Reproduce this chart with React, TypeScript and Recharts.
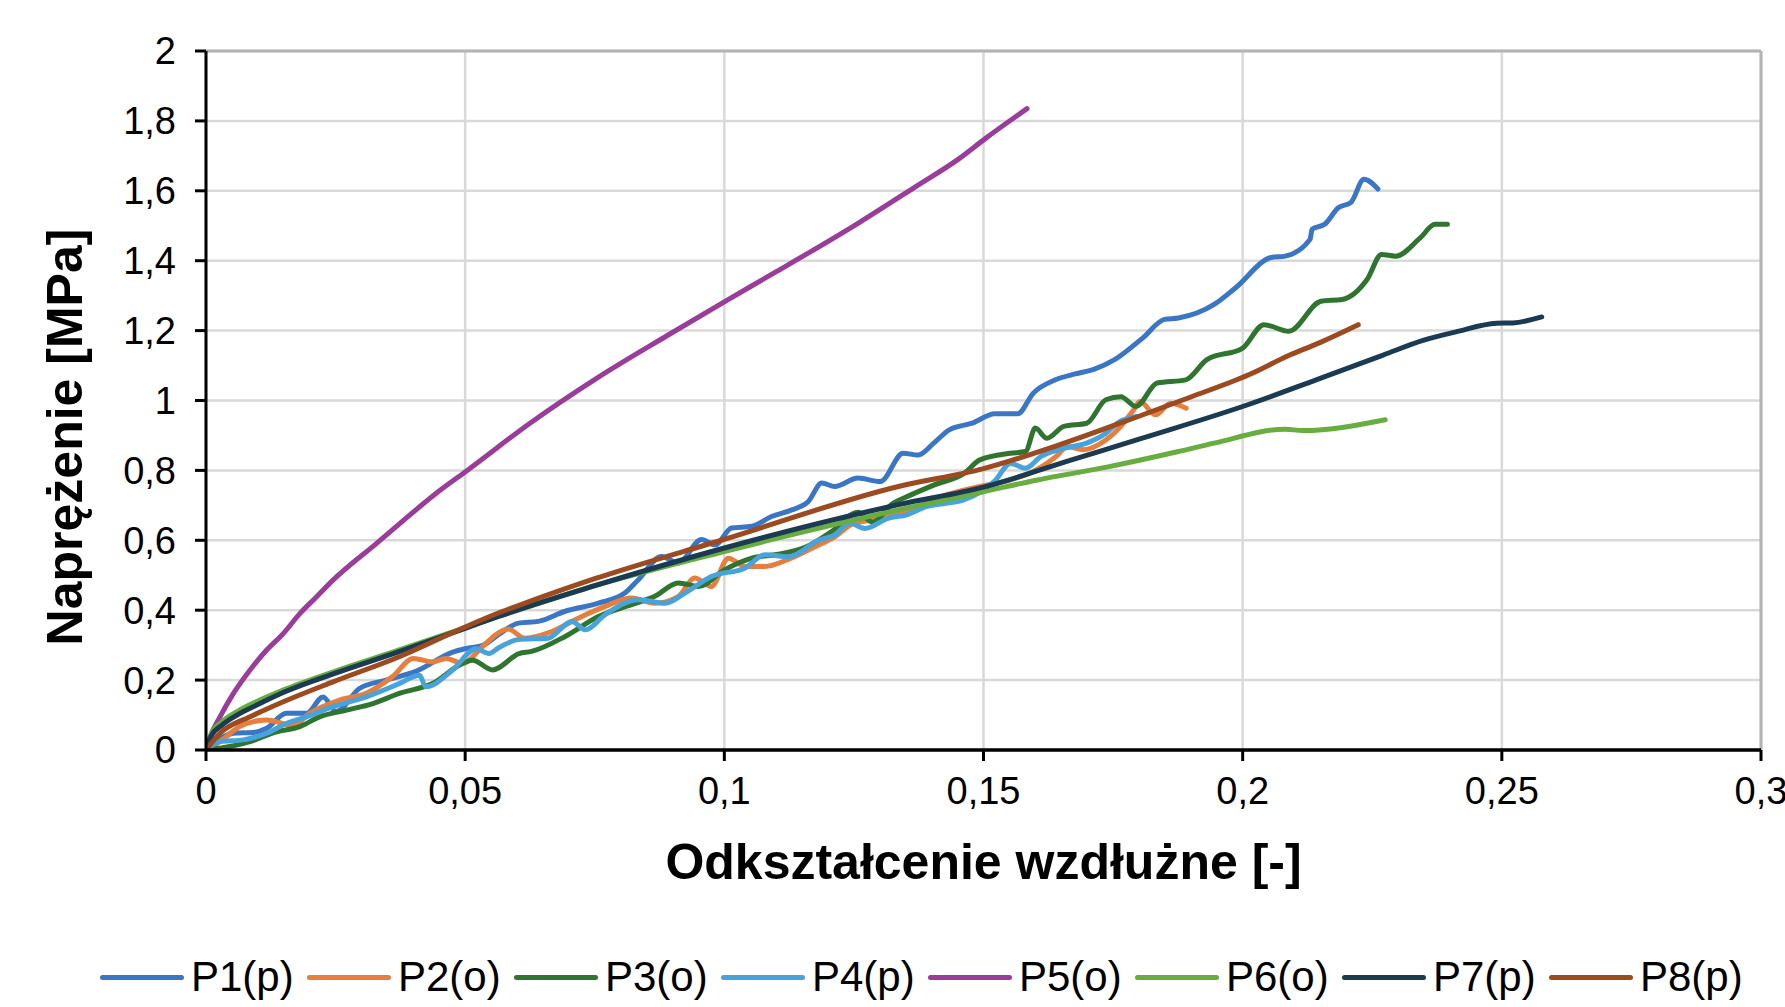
import React from "react";
import {
  LineChart,
  Line,
  XAxis,
  YAxis,
  CartesianGrid,
  ReferenceLine,
} from "recharts";

// Strain [-] / stress [MPa] pairs.
const P1: [number, number][] = [
  [0, 0], [0.0008, 0.01], [0.0053, 0.048], [0.0091, 0.05], [0.0117, 0.062],
  [0.0155, 0.105], [0.0194, 0.105], [0.0226, 0.152], [0.0251, 0.11], [0.0296, 0.176],
  [0.0347, 0.2], [0.0405, 0.225], [0.0476, 0.28], [0.0501, 0.29], [0.0535, 0.3],
  [0.0564, 0.33], [0.0603, 0.363], [0.0641, 0.368], [0.0693, 0.397], [0.0757, 0.42],
  [0.0808, 0.449], [0.0834, 0.487], [0.0879, 0.554], [0.0911, 0.535], [0.0956, 0.602],
  [0.0982, 0.587], [0.1014, 0.635], [0.1053, 0.64], [0.1091, 0.668], [0.113, 0.687],
  [0.1162, 0.711], [0.1188, 0.764], [0.1213, 0.754], [0.1258, 0.778], [0.1301, 0.768],
  [0.1345, 0.849], [0.1374, 0.844], [0.1404, 0.878], [0.1434, 0.916], [0.1478, 0.935],
  [0.1522, 0.962], [0.1566, 0.962], [0.1596, 1.021], [0.164, 1.06], [0.1677, 1.076],
  [0.1714, 1.09], [0.1753, 1.117], [0.1808, 1.18], [0.1849, 1.232], [0.1876, 1.236],
  [0.1945, 1.275], [0.1986, 1.322], [0.2055, 1.409], [0.2082, 1.413], [0.213, 1.461],
  [0.2134, 1.49], [0.2158, 1.504], [0.2185, 1.552], [0.2209, 1.567], [0.2234, 1.633],
  [0.2261, 1.605],
];

const P2: [number, number][] = [
  [0, 0], [0.0027, 0.024], [0.0065, 0.067], [0.0117, 0.086], [0.0168, 0.07],
  [0.02, 0.105], [0.0258, 0.143], [0.0309, 0.162], [0.036, 0.21], [0.04, 0.262],
  [0.0437, 0.252], [0.0463, 0.262], [0.0495, 0.248], [0.0533, 0.295], [0.0564, 0.335],
  [0.0583, 0.346], [0.0615, 0.32], [0.0667, 0.339], [0.0718, 0.377], [0.077, 0.411],
  [0.0821, 0.435], [0.0866, 0.42], [0.0911, 0.439], [0.0943, 0.492], [0.0975, 0.468],
  [0.1008, 0.549], [0.104, 0.525], [0.1078, 0.525], [0.1123, 0.545], [0.1176, 0.582],
  [0.1213, 0.61], [0.125, 0.649], [0.1286, 0.658], [0.136, 0.687], [0.1419, 0.725],
  [0.1493, 0.754], [0.1552, 0.773], [0.1596, 0.797], [0.164, 0.84], [0.1662, 0.868],
  [0.1692, 0.859], [0.1736, 0.887], [0.1765, 0.926], [0.1788, 0.97], [0.1802, 0.997],
  [0.1832, 0.959], [0.1861, 0.992], [0.1891, 0.978],
];

const P3: [number, number][] = [
  [0, 0], [0.0027, 0.005], [0.0085, 0.024], [0.0136, 0.052], [0.0181, 0.067],
  [0.0219, 0.095], [0.0271, 0.114], [0.0322, 0.133], [0.0373, 0.162], [0.0437, 0.19],
  [0.0495, 0.248], [0.0514, 0.257], [0.0553, 0.229], [0.0604, 0.276], [0.0628, 0.282],
  [0.0693, 0.325], [0.0757, 0.382], [0.0821, 0.416], [0.0866, 0.44], [0.0911, 0.478],
  [0.095, 0.468], [0.1001, 0.516], [0.1053, 0.549], [0.1104, 0.56], [0.1156, 0.58],
  [0.1207, 0.625], [0.1258, 0.68], [0.1286, 0.652], [0.1323, 0.703], [0.136, 0.73],
  [0.1404, 0.758], [0.1463, 0.792], [0.1493, 0.83], [0.1552, 0.849], [0.1581, 0.854],
  [0.16, 0.921], [0.1622, 0.892], [0.1655, 0.926], [0.1699, 0.935], [0.1736, 1.002],
  [0.1765, 1.011], [0.1794, 0.983], [0.1835, 1.05], [0.189, 1.059], [0.1931, 1.117],
  [0.2, 1.15], [0.2041, 1.217], [0.2089, 1.198], [0.2151, 1.284], [0.2192, 1.289],
  [0.224, 1.346], [0.2268, 1.418], [0.2295, 1.413], [0.2343, 1.466], [0.2371, 1.504],
  [0.2395, 1.504],
];

const P4: [number, number][] = [
  [0, 0], [0.0027, 0.024], [0.0072, 0.029], [0.0117, 0.048], [0.0155, 0.076],
  [0.0194, 0.095], [0.0245, 0.124], [0.0309, 0.152], [0.0373, 0.19], [0.0412, 0.214],
  [0.0424, 0.181], [0.0476, 0.229], [0.0521, 0.29], [0.0546, 0.276], [0.0564, 0.292],
  [0.0603, 0.316], [0.066, 0.32], [0.0706, 0.368], [0.0732, 0.344], [0.077, 0.387],
  [0.0834, 0.43], [0.0886, 0.42], [0.0924, 0.449], [0.0976, 0.497], [0.104, 0.521],
  [0.1079, 0.559], [0.1124, 0.553], [0.1183, 0.601], [0.1213, 0.615], [0.1242, 0.649],
  [0.1271, 0.634], [0.1316, 0.663], [0.1352, 0.673], [0.1389, 0.696], [0.1463, 0.716],
  [0.1522, 0.77], [0.1552, 0.82], [0.1581, 0.806], [0.1611, 0.84], [0.1655, 0.863],
  [0.1699, 0.878], [0.1736, 0.906], [0.1758, 0.935], [0.1795, 0.954],
];

const P5: [number, number][] = [
  [0, 0], [0.0008, 0.038], [0.0027, 0.095], [0.0053, 0.162], [0.0085, 0.229],
  [0.0117, 0.286], [0.0149, 0.333], [0.0181, 0.39], [0.0213, 0.438], [0.0245, 0.486],
  [0.0328, 0.59], [0.0456, 0.748], [0.0504, 0.8], [0.0625, 0.935],
  [0.0752, 1.062], [0.089, 1.186], [0.1004, 1.286], [0.1102, 1.37], [0.1261, 1.51],
  [0.1367, 1.61], [0.1451, 1.69], [0.1504, 1.75], [0.1584, 1.835],
];

const P6: [number, number][] = [
  [0, 0], [0.001, 0.045], [0.003, 0.08], [0.006, 0.11], [0.01, 0.14],
  [0.015, 0.172], [0.025, 0.226], [0.037, 0.285], [0.05, 0.35], [0.075, 0.47],
  [0.1, 0.568], [0.1336, 0.687], [0.15, 0.739], [0.1602, 0.772], [0.174, 0.81],
  [0.1876, 0.854], [0.1945, 0.878], [0.2082, 0.918], [0.2116, 0.914], [0.2275, 0.945],
];

const P7: [number, number][] = [
  [0, 0], [0.001, 0.04], [0.003, 0.07], [0.006, 0.1], [0.01, 0.13],
  [0.015, 0.165], [0.025, 0.22], [0.037, 0.28], [0.05, 0.348], [0.0564, 0.382],
  [0.075, 0.47], [0.1, 0.578], [0.1336, 0.702], [0.15, 0.752], [0.167, 0.83],
  [0.1808, 0.893], [0.2014, 0.99], [0.2143, 1.06], [0.2271, 1.13], [0.2348, 1.172],
  [0.2413, 1.197], [0.249, 1.221], [0.2521, 1.222], [0.2577, 1.239],
];

const P8: [number, number][] = [
  [0, 0], [0.0027, 0.048], [0.0085, 0.095], [0.0149, 0.138], [0.0245, 0.195],
  [0.0373, 0.267], [0.05, 0.352], [0.0564, 0.392], [0.0604, 0.414], [0.075, 0.49],
  [0.1, 0.603], [0.1336, 0.754], [0.15, 0.805], [0.165, 0.875], [0.18, 0.955],
  [0.19, 1.01], [0.2014, 1.075], [0.2091, 1.13], [0.2143, 1.162], [0.2223, 1.217],
];

const xTicks = [0, 0.05, 0.1, 0.15, 0.2, 0.25, 0.3];
const yTicks = [0, 0.2, 0.4, 0.6, 0.8, 1, 1.2, 1.4, 1.6, 1.8, 2];

const series = [
  { name: "P1(p)", color: "#3B76C5", points: P1 },
  { name: "P2(o)", color: "#E67E3E", points: P2 },
  { name: "P3(o)", color: "#2F7530", points: P3 },
  { name: "P4(p)", color: "#48A3DA", points: P4 },
  { name: "P5(o)", color: "#9A3C9A", points: P5 },
  { name: "P6(o)", color: "#68AD40", points: P6 },
  { name: "P7(p)", color: "#1B3B52", points: P7 },
  { name: "P8(p)", color: "#9C4A1F", points: P8 },
];

const FONT = '"Liberation Sans", Arial, Helvetica, sans-serif';

// Polish decimal comma, e.g. 0.05 -> "0,05"
const fmt = (v: number) => String(Number(v.toFixed(3))).replace(".", ",");

const App: React.FC = () => {
  return (
    <div
      style={{
        position: "absolute",
        left: 0,
        top: 0,
        width: 1785,
        height: 1007,
        background: "#fff",
        overflow: "hidden",
        fontFamily: FONT,
      }}
    >
      <LineChart
        width={1785}
        height={1007}
        margin={{ top: 51, right: 24, left: 106, bottom: 197 }}
      >
        <CartesianGrid stroke="#d9d9d9" strokeWidth={2.5} />
        <XAxis
          type="number"
          dataKey="x"
          domain={[0, 0.3]}
          ticks={xTicks}
          interval={0}
          tickFormatter={fmt}
          height={60}
          tickSize={11}
          tickMargin={16}
          tick={{ fontSize: 38, fill: "#000", fontFamily: FONT }}
          axisLine={{ stroke: "#000", strokeWidth: 3.5 }}
          tickLine={{ stroke: "#000", strokeWidth: 3 }}
          allowDataOverflow
        />
        <YAxis
          type="number"
          domain={[0, 2]}
          ticks={yTicks}
          interval={0}
          tickFormatter={fmt}
          width={100}
          tickSize={11}
          tickMargin={19}
          tick={{ fontSize: 38, fill: "#000", fontFamily: FONT }}
          axisLine={{ stroke: "#000", strokeWidth: 3 }}
          tickLine={{ stroke: "#000", strokeWidth: 3 }}
          allowDataOverflow
        />
        <ReferenceLine y={2} stroke="#b3b3b3" strokeWidth={3} />
        <ReferenceLine x={0.3} stroke="#b3b3b3" strokeWidth={3} />
        {series.map((s) => (
          <Line
            key={s.name}
            name={s.name}
            data={s.points.map(([x, y]) => ({ x, y }))}
            dataKey="y"
            type="monotone"
            stroke={s.color}
            strokeWidth={5}
            strokeLinejoin="round"
            strokeLinecap="round"
            dot={false}
            activeDot={false}
            isAnimationActive={false}
          />
        ))}
      </LineChart>

      {/* axis titles */}
      <div
        style={{
          position: "absolute",
          left: 206,
          width: 1555,
          top: 832,
          textAlign: "center",
          fontSize: 50,
          fontWeight: 700,
          lineHeight: "60px",
          color: "#000",
        }}
      >
        Odkształcenie wzdłużne [-]
      </div>
      <div
        style={{
          position: "absolute",
          left: 65,
          top: 437,
          transform: "translate(-50%, -50%) rotate(-90deg)",
          fontSize: 50,
          fontWeight: 700,
          lineHeight: "60px",
          whiteSpace: "nowrap",
          color: "#000",
        }}
      >
        Naprężenie [MPa]
      </div>

      {/* legend */}
      <div
        style={{
          position: "absolute",
          left: 100,
          top: 952,
          height: 50,
          display: "flex",
          alignItems: "center",
          gap: 12,
        }}
      >
        {series.map((s) => (
          <div
            key={s.name}
            style={{ display: "flex", alignItems: "center", width: 195 }}
          >
            <div
              style={{
                width: 84,
                height: 5,
                borderRadius: 3,
                background: s.color,
                marginRight: 7,
              }}
            />
            <span style={{ fontSize: 42, color: "#000", lineHeight: "50px" }}>
              {s.name}
            </span>
          </div>
        ))}
      </div>
    </div>
  );
};

export default App;
